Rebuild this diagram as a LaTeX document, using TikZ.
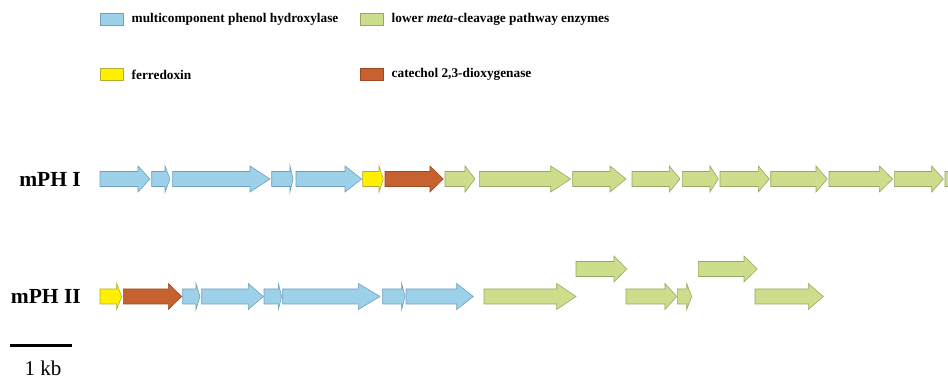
\documentclass[tikz,border=0pt]{standalone}
\usepackage{fontspec}
\setmainfont{Liberation Serif}
\definecolor{gblue}{HTML}{9DD1EA}
\definecolor{gblueL}{HTML}{6E9FBC}
\definecolor{ggreen}{HTML}{CCDD8C}
\definecolor{ggreenL}{HTML}{98A862}
\definecolor{gyellow}{HTML}{FFF000}
\definecolor{gyellowL}{HTML}{B4AA36}
\definecolor{gbrown}{HTML}{C5622F}
\definecolor{gbrownL}{HTML}{9C4A22}
\tikzset{
  blue gene/.style={fill=gblue,draw=gblueL,line width=0.6pt},
  green gene/.style={fill=ggreen,draw=ggreenL,line width=0.6pt},
  yellow gene/.style={fill=gyellow,draw=gyellowL,line width=0.6pt},
  brown gene/.style={fill=gbrown,draw=gbrownL,line width=0.6pt},
  legtext/.style={anchor=west,font=\fontsize{13.3}{15}\selectfont\bfseries,inner sep=0pt},
  rowlabel/.style={anchor=east,font=\fontsize{21.5}{24}\selectfont\bfseries,inner sep=0pt},
  legbox/.style={line width=0.6pt}
}
% \gene{style}{x1}{headstart}{x2}{yc}
\newcommand{\gene}[5]{%
  \draw[#1] (#2,#5-7.5) -- (#3,#5-7.5) -- (#3,#5-13) -- (#4,#5) -- (#3,#5+13)
    -- (#3,#5+7.5) -- (#2,#5+7.5) -- cycle;}
\begin{document}
\begin{tikzpicture}[x=1pt,y=-1pt]
\useasboundingbox[fill=white] (0,0) rectangle (948,379);
% legend
\draw[legbox,blue gene] (100,13.5) rectangle (123,25);
\node[legtext] (l1) at (131.5,19.5) {multicomponent phenol hydroxylase};
\draw[legbox,green gene] (360,13.5) rectangle (383,25);
\node[legtext] (l2) at (391.5,19.5) {lower \textit{meta}-cleavage pathway enzymes};
\draw[legbox,yellow gene] (100,68.5) rectangle (123,80);
\node[legtext] (l3) at (131.5,74.5) {ferredoxin};
\draw[legbox,brown gene] (360,68.5) rectangle (383,80);
\node[legtext] (l4) at (391.5,74.5) {catechol 2,3-dioxygenase};
% row labels
\node[rowlabel] (r1) at (81,179) {mPH I};
\node[rowlabel] (r2) at (81,296.5) {mPH II};
% row 1
\gene{blue gene}{100}{138}{150}{179}
\gene{blue gene}{151.7}{165}{170}{179}
\gene{blue gene}{172.7}{250}{270}{179}
\gene{blue gene}{271.7}{290}{293}{179}
\gene{blue gene}{296}{345}{361.7}{179}
\gene{yellow gene}{362.7}{379}{383.3}{179}
\gene{brown gene}{385}{430}{443.3}{179}
\gene{green gene}{445}{465}{475}{179}
\gene{green gene}{479.3}{550.7}{570.7}{179}
\gene{green gene}{572.7}{610}{626}{179}
\gene{green gene}{632}{669.3}{680}{179}
\gene{green gene}{682.3}{710}{718.3}{179}
\gene{green gene}{720}{758.3}{769.3}{179}
\gene{green gene}{770.7}{816}{827.3}{179}
\gene{green gene}{829}{879.3}{892.7}{179}
\gene{green gene}{894.3}{931.7}{943.3}{179}
\gene{green gene}{945}{960}{975}{179}
% row 2
\gene{yellow gene}{100}{116.7}{121.7}{296.5}
\gene{brown gene}{123.3}{168.3}{181.7}{296.5}
\gene{blue gene}{182.7}{196}{200}{296.5}
\gene{blue gene}{201.7}{248.3}{263.3}{296.5}
\gene{blue gene}{264}{278.3}{281.7}{296.5}
\gene{blue gene}{282.7}{358.3}{380}{296.5}
\gene{blue gene}{382.7}{401.7}{405}{296.5}
\gene{blue gene}{406}{456.7}{473.3}{296.5}
\gene{green gene}{484}{556.7}{576}{296.5}
\gene{green gene}{626}{665}{676.7}{296.5}
\gene{green gene}{677.3}{686.7}{691.7}{296.5}
\gene{green gene}{755}{808.3}{823.3}{296.5}
\gene{green gene}{576}{614}{626.7}{269}
\gene{green gene}{698.3}{744}{757.3}{269}
% scale bar
\coordinate (s1) at (10,346);
\coordinate (s2) at (72,346);
\draw[line width=3pt] (s1) -- (s2);
\node[anchor=base,inner sep=0pt,font=\fontsize{21}{24}\selectfont] (kb) at (43,375) {1 kb};
\end{tikzpicture}
\end{document}
